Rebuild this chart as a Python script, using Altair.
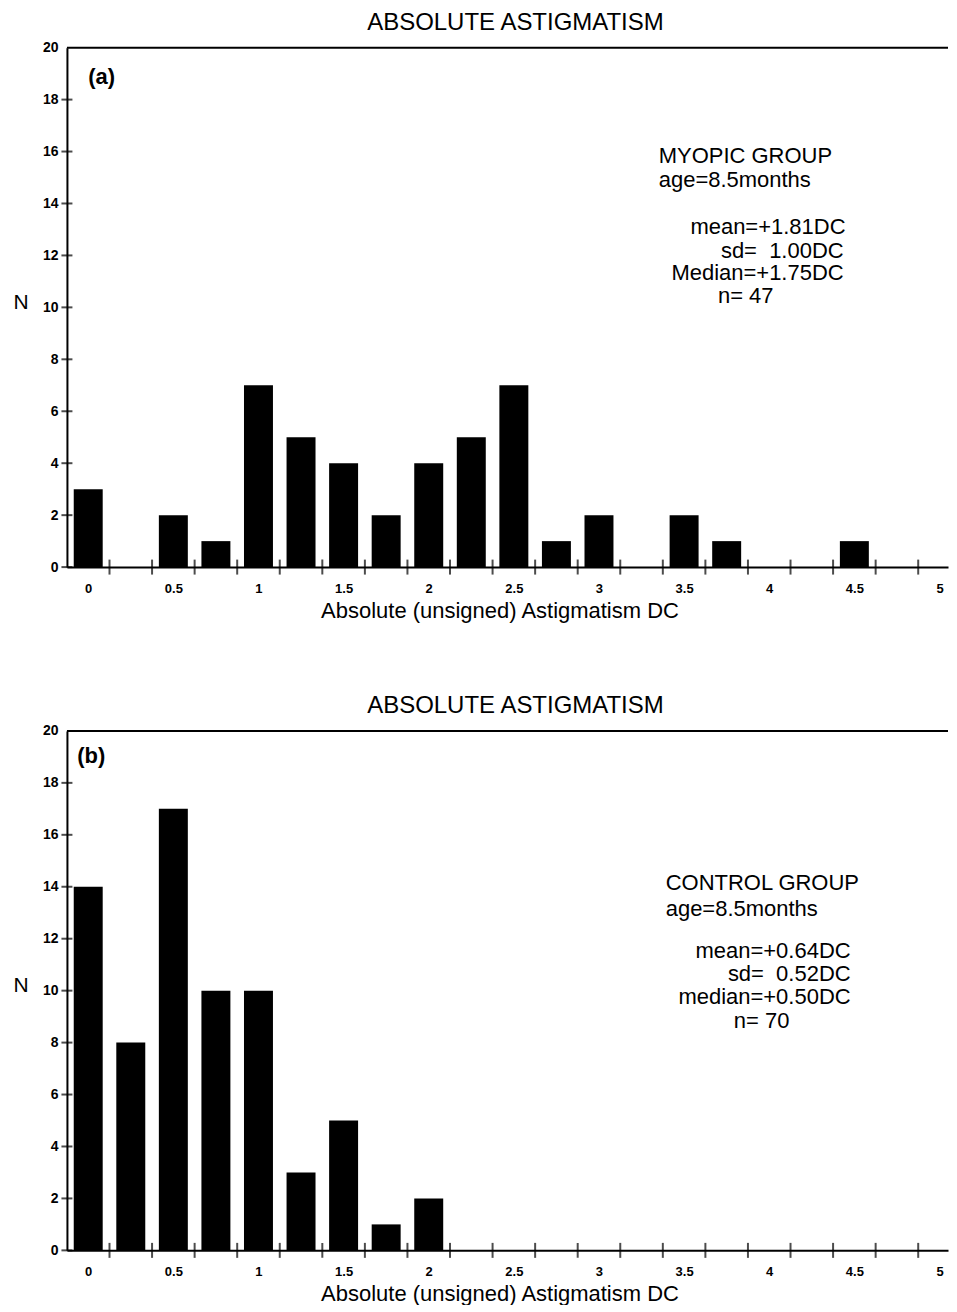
import altair as alt
import pandas as pd

FONT = "Liberation Sans"

# ---- data ----
bin_centres_a = [0, 0.25, 0.5, 0.75, 1.0, 1.25, 1.5, 1.75, 2.0, 2.25, 2.5,
                 2.75, 3.0, 3.25, 3.5, 3.75, 4.0, 4.25, 4.5]
counts_a = [3, 0, 2, 1, 7, 5, 4, 2, 4, 5, 7, 1, 2, 0, 2, 1, 0, 0, 1]

bin_centres_b = [0, 0.25, 0.5, 0.75, 1.0, 1.25, 1.5, 1.75, 2.0]
counts_b = [14, 8, 17, 10, 10, 3, 5, 1, 2]

x_label_values = [0, 0.5, 1, 1.5, 2, 2.5, 3, 3.5, 4, 4.5, 5]
x_tick_values = [0.125, 0.375, 0.625, 0.875, 1.125, 1.375, 1.625, 1.875,
                 2.125, 2.375, 2.625, 2.875, 3.125, 3.375, 3.625, 3.875,
                 4.125, 4.375, 4.625, 4.875]
y_values = [0, 2, 4, 6, 8, 10, 12, 14, 16, 18, 20]
y_tick_values = [0, 2, 4, 6, 8, 10, 12, 14, 16, 18]

X_MIN, X_MAX = -0.125, 5.05

title_text = "ABSOLUTE ASTIGMATISM"
x_title = "Absolute (unsigned) Astigmatism DC"

# annotation text lines: (text, x, y, align)
notes_a = [
    ("MYOPIC GROUP", 3.351, 15.54, "left"),
    ("age=8.5months", 3.351, 14.62, "left"),
    ("mean=+1.81DC", 4.448, 12.81, "right"),
    ("sd=\u00a0 1.00DC", 4.437, 11.92, "right"),
    ("Median=+1.75DC", 4.437, 11.04, "right"),
    ("n= 47", 3.862, 10.15, "center"),
]
notes_b = [
    ("CONTROL GROUP", 3.392, 13.86, "left"),
    ("age=8.5months", 3.392, 12.86, "left"),
    ("mean=+0.64DC", 4.478, 11.25, "right"),
    ("sd=\u00a0 0.52DC", 4.478, 10.36, "right"),
    ("median=+0.50DC", 4.478, 9.47, "right"),
    ("n= 70", 3.955, 8.58, "center"),
]


def panel(centres, counts, tag, tag_xy, notes):
    xs = alt.Scale(domain=[X_MIN, X_MAX], nice=False, zero=False, padding=0)
    ys = alt.Scale(domain=[0, 20], nice=False)
    df = pd.DataFrame({"x": centres, "n": counts})

    bars = alt.Chart(df).mark_bar(size=29, color="black").encode(
        x=alt.X("x:Q", scale=xs, axis=alt.Axis(
            values=x_label_values, format="~g", title=x_title,
            ticks=False, tickSize=0, grid=False,
            labelFont=FONT, labelFontSize=13, labelFontWeight="bold",
            labelColor="black", labelPadding=15,
            titleFont=FONT, titleFontSize=22, titleFontWeight="normal",
            titleColor="black", titlePadding=5, titleX=433, titleAlign="center",
            domainColor="black", domainWidth=2)),
        y=alt.Y("n:Q", scale=ys, axis=alt.Axis(
            values=y_values, title="N", titleAngle=0, ticks=False, tickSize=0,
            grid=False, labelFont=FONT, labelFontSize=14,
            labelFontWeight="bold", labelColor="black", labelPadding=9,
            titleFont=FONT, titleFontSize=21, titleFontWeight="normal",
            titleColor="black", titleAlign="left", titleBaseline="alphabetic",
            titleX=-54, titleY=261,
            domainColor="black", domainWidth=2)),
    )

    xt = alt.Chart(pd.DataFrame({"x": x_tick_values, "n": [0] * len(x_tick_values)})).mark_tick(
        orient="vertical", size=15, thickness=2, color="black").encode(
        x=alt.X("x:Q", scale=xs), y=alt.Y("n:Q", scale=ys))

    yt = alt.Chart(pd.DataFrame({"x": [X_MIN] * len(y_tick_values), "n": y_tick_values})).mark_tick(
        orient="horizontal", size=11, thickness=2, color="black").encode(
        x=alt.X("x:Q", scale=xs), y=alt.Y("n:Q", scale=ys))

    top = alt.Chart(pd.DataFrame({"x": [X_MIN], "x2": [X_MAX], "n": [20]})).mark_rule(
        color="black", strokeWidth=2).encode(
        x=alt.X("x:Q", scale=xs), x2="x2:Q", y=alt.Y("n:Q", scale=ys))

    layers = [bars, xt, yt, top]

    tagc = alt.Chart(pd.DataFrame({"x": [tag_xy[0]], "n": [tag_xy[1]], "t": [tag]})).mark_text(
        font=FONT, fontSize=22, fontWeight="bold", align="left", baseline="alphabetic",
        color="black").encode(x=alt.X("x:Q", scale=xs), y=alt.Y("n:Q", scale=ys), text="t:N")
    layers.append(tagc)

    ndf = pd.DataFrame(notes, columns=["t", "x", "n", "align"])
    for al in ["left", "right", "center"]:
        sub = ndf[ndf["align"] == al]
        layers.append(alt.Chart(sub).mark_text(
            font=FONT, fontSize=22, align=al, baseline="alphabetic", color="black").encode(
            x=alt.X("x:Q", scale=xs), y=alt.Y("n:Q", scale=ys), text="t:N"))

    return alt.layer(*layers).properties(
        width=882, height=520,
        title=alt.TitleParams(title_text, font=FONT, fontSize=24, fontWeight="normal",
                              color="black", anchor="middle", frame="group",
                              offset=6, dx=8),
    )


pa = panel(bin_centres_a, counts_a, "(a)", (0.0, 18.6), notes_a)
pb = panel(bin_centres_b, counts_b, "(b)", (-0.065, 18.77), notes_b)

chart = alt.vconcat(pa, pb, spacing=73).properties(
    padding={"left": 5, "top": 2, "right": 0, "bottom": 0}
).configure(background="white").configure_view(stroke=None)

chart.save("out.html", embed_options={"renderer": "svg", "actions": False})
